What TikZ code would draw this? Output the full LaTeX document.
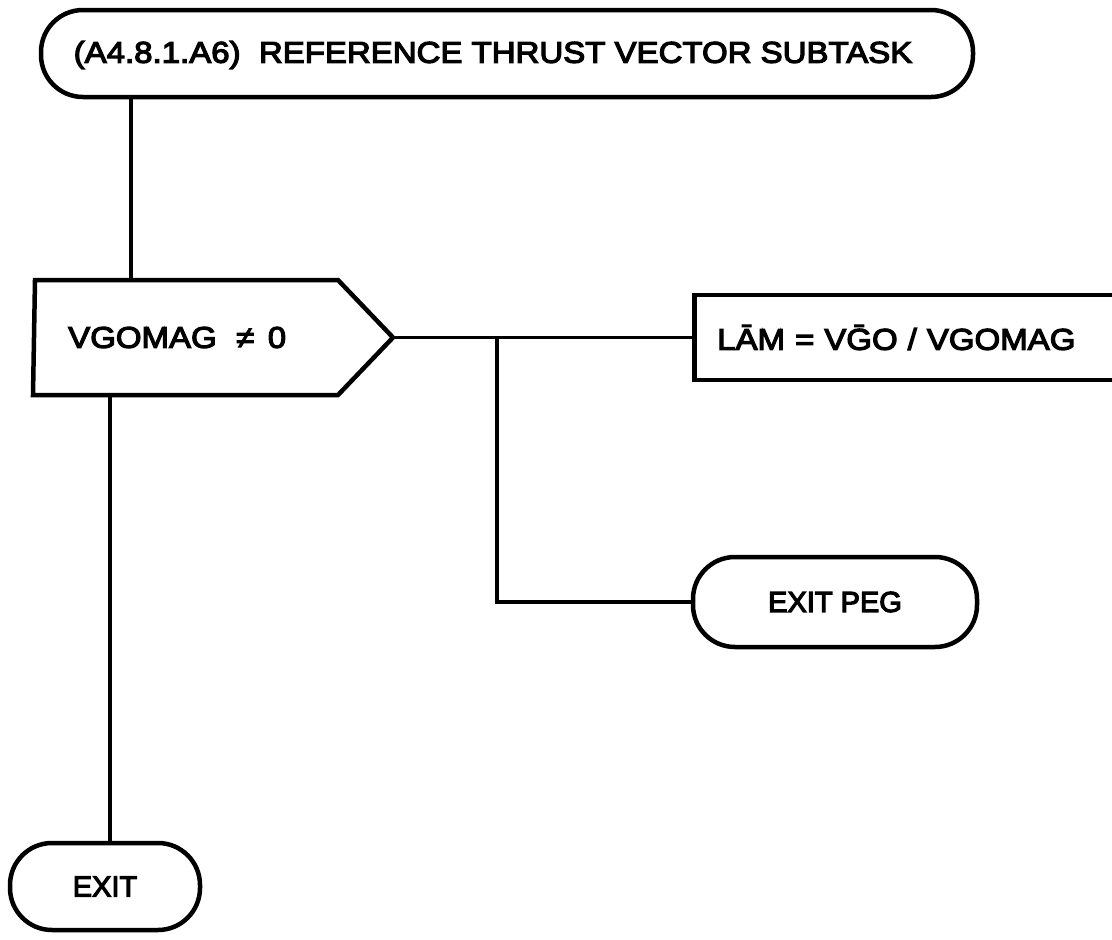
\documentclass[tikz,border=0pt]{standalone}
\usepackage{fontspec}
\setmainfont{Liberation Sans}[FakeStretch=1.1, FakeBold=4]
\newfontfamily\tightfont{Liberation Sans}[FakeBold=4]
\begin{document}
\begin{tikzpicture}[x=1pt,y=-1pt,
  every node/.style={font=\fontsize{30}{36}\selectfont},
  tight/.style={font=\tightfont\fontsize{29}{34}\selectfont},
  term/.style={draw, line width=4.5pt, rounded corners=42pt, inner sep=0pt},
  box/.style={draw, line width=4.5pt, inner sep=0pt},
  conn/.style={line width=3.5pt}]
\useasboundingbox (0,0) rectangle (1112,940);
% title terminal
\node[term, minimum width=932pt, minimum height=87pt] (title) at (507,53.5) {};
\node[inner sep=0pt] (titletext) at (493,55) {(A4.8.1.A6)\ \ REFERENCE THRUST VECTOR SUBTASK};
% decision
\coordinate (dTL) at (35,280);
\coordinate (dTR) at (338,280);
\coordinate (dTip) at (393,337.5);
\coordinate (dBR) at (338,395);
\coordinate (dBL) at (33,395);
\draw[line width=4.5pt, line join=miter] (dTL) -- (dTR) -- (dTip) -- (dBR) -- (dBL) -- cycle;
\node[anchor=west, inner sep=0pt] (dec) at (68,337.5) {VGOMAG\hspace{0.65em}≠\hspace{0.45em}0};
% process box (clipped at right edge)
\node[box, anchor=west, minimum height=85pt, text width=434pt, inner xsep=23pt, align=left] (calc) at (692,337.5) {L\={A}M = V\={G}O / VGOMAG};
% exit peg
\node[term, tight, minimum width=284pt, minimum height=90pt] (peg) at (835,602) {EXIT PEG};
% exit
\node[term, tight, minimum width=190pt, minimum height=87pt] (exit) at (105,886.5) {EXIT};
% connectors
\coordinate (j) at (497,337.5);
\draw[conn] (title.south -| 131,0) -- (131,280);
\draw[conn] (dTip) -- (calc.west);
\draw[conn] (j) |- (peg.west);
\draw[conn] (110,395) -- (exit.north -| 110,0);
\end{tikzpicture}
\end{document}
